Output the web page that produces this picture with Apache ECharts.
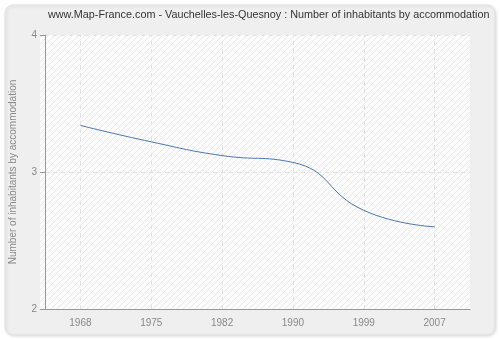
<!DOCTYPE html>
<html>
<head>
<meta charset="utf-8">
<script src="https://cdn.jsdelivr.net/npm/echarts@6/dist/echarts.min.js"></script>
<style>
  html, body { margin: 0; padding: 0; background: #ffffff; }
  #chart { width: 500px; height: 340px; }
</style>
</head>
<body>
<div id="chart"></div>
<script>
// Census years and average number of inhabitants per accommodation
const years = ['1968', '1975', '1982', '1990', '1999', '2007'];
const inhabitants = [3.34, 3.22, 3.12, 3.07, 2.72, 2.60];
const yTicks = [2, 3, 4];

const titleText = 'www.Map-France.com - Vauchelles-les-Quesnoy : Number of inhabitants by accommodation';
const yAxisTitle = 'Number of inhabitants by accommodation';

const FONT = 'Liberation Sans';

// Diagonal hatch used as the plot background
function hatch(lineColor) {
  const c = document.createElement('canvas');
  c.width = 6; c.height = 6;
  const g = c.getContext('2d');
  g.fillStyle = '#fcfcfc';
  g.fillRect(0, 0, 6, 6);
  g.strokeStyle = lineColor;
  g.lineWidth = 1;
  g.beginPath();
  g.moveTo(-1, 7); g.lineTo(7, -1);
  g.moveTo(-1, 1); g.lineTo(1, -1);
  g.moveTo(5, 7); g.lineTo(7, 5);
  g.stroke();
  return c;
}

const dashed = { color: '#e2e2e2', type: [4, 4], width: 1 };

const chart = echarts.init(document.getElementById('chart'), null, { renderer: 'canvas' });

chart.setOption({
  animation: false,
  backgroundColor: '#ffffff',
  graphic: [
    {
      type: 'rect',
      shape: { x: 5, y: 5, width: 490, height: 330, r: 8 },
      style: { fill: '#efefef', stroke: '#e2e2e2', lineWidth: 1,
               shadowColor: 'rgba(0,0,0,0.12)', shadowBlur: 3, shadowOffsetX: 1, shadowOffsetY: 1 },
      z: -10
    },
    {
      type: 'rect',
      shape: { x: 40, y: 35, width: 430, height: 274 },
      style: { fill: { image: hatch('#e8e8e8'), repeat: 'repeat' } },
      z: -5
    }
  ],
  title: {
    text: titleText,
    left: 43,
    top: 5,
    textStyle: { fontFamily: FONT, fontSize: 10.8, fontWeight: 'normal', color: '#333333' }
  },
  grid: { left: 40, top: 35, width: 430, height: 274, containLabel: false },
  xAxis: {
    type: 'category',
    data: years,
    boundaryGap: true,
    axisLine: { lineStyle: { color: '#999999' } },
    axisTick: { alignWithLabel: true, length: 5, lineStyle: { color: '#999999' } },
    axisLabel: { color: '#888888', fontFamily: FONT, fontSize: 10, margin: 9 },
    splitLine: { show: false }
  },
  yAxis: {
    type: 'value',
    min: yTicks[0],
    max: yTicks[yTicks.length - 1],
    interval: 1,
    name: yAxisTitle,
    nameLocation: 'middle',
    nameGap: 27,
    nameTextStyle: { color: '#888888', fontFamily: FONT, fontSize: 10 },
    axisLine: { show: true, lineStyle: { color: '#999999' } },
    axisTick: { show: true, length: 5, lineStyle: { color: '#999999' } },
    axisLabel: { color: '#888888', fontFamily: FONT, fontSize: 10, margin: 8 },
    splitLine: { show: true, lineStyle: dashed }
  },
  series: [{
    type: 'line',
    data: inhabitants,
    smooth: 0.5,
    showSymbol: false,
    lineStyle: { color: '#4b77ad', width: 1 },
    z: 3,
    // vertical guides through each census year
    markLine: {
      silent: true,
      symbol: ['none', 'none'],
      label: { show: false },
      lineStyle: dashed,
      z: 1,
      data: years.map(y => ({ xAxis: y }))
    }
  }]
});
</script>
</body>
</html>
